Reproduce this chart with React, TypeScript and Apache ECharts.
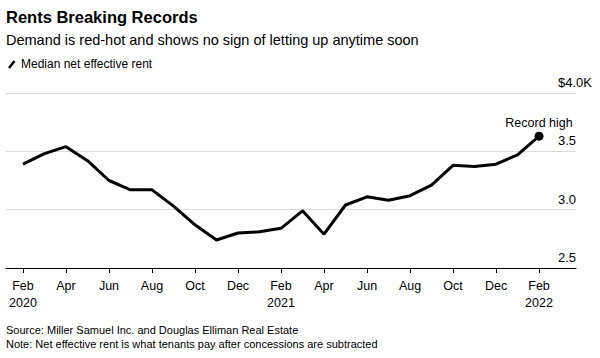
import React, { useEffect, useRef } from "react";
import * as echarts from "echarts";

const months = [
  "2020-02", "2020-03", "2020-04", "2020-05", "2020-06", "2020-07", "2020-08", "2020-09", "2020-10", "2020-11", "2020-12",
  "2021-01", "2021-02", "2021-03", "2021-04", "2021-05", "2021-06", "2021-07", "2021-08", "2021-09", "2021-10", "2021-11", "2021-12",
  "2022-01", "2022-02",
];
const rent = [
  3.39, 3.48, 3.54, 3.42, 3.25, 3.17, 3.17, 3.03, 2.87, 2.74, 2.80,
  2.81, 2.84, 2.99, 2.79, 3.04, 3.11, 3.08, 3.12, 3.21, 3.38, 3.37, 3.39,
  3.47, 3.63,
];
const tickIndexes = [0, 2, 4, 6, 8, 10, 12, 14, 16, 18, 20, 22, 24];
const tickLabels = [
  "Feb\n2020", "Apr", "Jun", "Aug", "Oct", "Dec", "Feb\n2021", "Apr", "Jun", "Aug", "Oct", "Dec", "Feb\n2022",
];
const yTicks = [2.5, 3.0, 3.5, 4.0];
const yTickLabels = ["2.5", "3.0", "3.5", "$4.0K"];

const FONT = "'Liberation Sans', Arial, sans-serif";

export default function App() {
  const ref = useRef<HTMLDivElement>(null);
  useEffect(() => {
    if (!ref.current) return;
    const chart = echarts.init(ref.current, null, { renderer: "svg" });
    const lineData = rent.map((v, i) => [i, v]);
    const last = rent.length - 1;
    chart.setOption({
      animation: false,
      backgroundColor: "#fff",
      textStyle: { fontFamily: FONT },
      graphic: [
        { type: "text", left: 6, top: 8, style: { text: "Rents Breaking Records", font: `bold 16.5px ${FONT}`, fill: "#000" } },
        { type: "text", left: 6, top: 32, style: { text: "Demand is red-hot and shows no sign of letting up anytime soon", font: `14.5px ${FONT}`, fill: "#000" } },
        { type: "line", shape: { x1: 9, y1: 68, x2: 14.5, y2: 61 }, style: { stroke: "#000", lineWidth: 2.5 } },
        { type: "text", left: 21, top: 58, style: { text: "Median net effective rent", font: `12px ${FONT}`, fill: "#000" } },
        { type: "text", left: 6, top: 324, style: { text: "Source: Miller Samuel Inc. and Douglas Elliman Real Estate", font: `11px ${FONT}`, fill: "#000" } },
        { type: "text", left: 6, top: 338, style: { text: "Note: Net effective rent is what tenants pay after concessions are subtracted", font: `11px ${FONT}`, fill: "#000" } },
      ],
      grid: { left: 6, right: 24, top: 93, bottom: 90 },
      xAxis: {
        type: "value",
        min: -0.79,
        max: 25.72,
        splitLine: { show: false },
        axisLine: { show: true, lineStyle: { color: "#000", width: 1 } },
        axisTick: { show: true, customValues: tickIndexes, length: 5, lineStyle: { color: "#000" } },
        axisLabel: {
          customValues: tickIndexes,
          formatter: (v: number) => tickLabels[tickIndexes.indexOf(Math.round(v))] ?? "",
          color: "#000",
          fontSize: 12.5,
          lineHeight: 17,
          margin: 9,
          fontFamily: FONT,
        },
      },
      yAxis: {
        type: "value",
        position: "right",
        min: 2.5,
        max: 4.0,
        interval: 0.5,
        axisLine: { show: false },
        axisTick: { show: false },
        splitLine: { show: true, lineStyle: { color: "#dcdcdc", width: 1 } },
        axisLabel: {
          inside: true,
          align: "left",
          verticalAlign: "bottom",
          margin: 18,
          padding: [0, 0, 4, 0],
          color: "#000",
          fontSize: 13,
          fontFamily: FONT,
          formatter: (v: number) => {
            const idx = yTicks.findIndex((t) => Math.abs(t - v) < 1e-6);
            return idx >= 0 ? yTickLabels[idx] : "";
          },
        },
      },
      series: [
        {
          type: "line",
          data: lineData,
          symbol: "none",
          lineStyle: { color: "#000", width: 3 },
          z: 3,
        },
        {
          type: "scatter",
          data: [[last, rent[last]]],
          symbol: "circle",
          symbolSize: 9,
          itemStyle: { color: "#000", opacity: 1 },
          label: {
            show: true,
            position: "top",
            distance: 2,
            formatter: "Record high",
            color: "#000",
            opacity: 1,
            fontSize: 12.5,
            fontFamily: FONT,
          },
          z: 4,
        },
      ],
    });
    return () => chart.dispose();
  }, []);
  return (
    <div
      ref={ref}
      data-months={months.length}
      style={{ position: "fixed", left: 0, top: 0, width: 600, height: 358, background: "#fff" }}
    />
  );
}
